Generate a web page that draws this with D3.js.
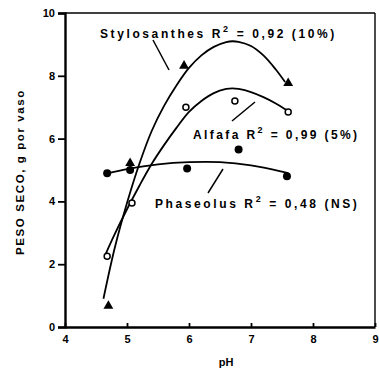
<!DOCTYPE html>
<html>
<head>
<meta charset="utf-8">
<script src="https://cdn.jsdelivr.net/npm/d3@7"></script>
<style>
  body { margin: 0; background: #fff; }
  svg text { font-family: "Liberation Sans", Arial, sans-serif; font-weight: bold; fill: #000; }
</style>
</head>
<body>
<svg id="chart"></svg>
<script>
// measured points
const styloPh = [4.7, 5.05, 5.92, 7.6];
const styloPts = [0.7, 5.25, 8.35, 7.8];
const alfafaPh = [4.68, 5.08, 5.95, 6.74, 7.6];
const alfafaPts = [2.25, 3.95, 7.0, 7.2, 6.85];
const phaseolusPh = [4.68, 5.05, 5.97, 6.8, 7.58];
const phaseolusPts = [4.9, 5.0, 5.05, 5.65, 4.8];

// fitted curves
const styloCurvePh = [4.62, 4.8, 5.0, 5.2, 5.4, 5.6, 5.8, 6.0, 6.2, 6.4, 6.6, 6.7, 6.8, 7.0, 7.2, 7.4, 7.55];
const styloCurve = [0.9, 2.5, 3.95, 5.2, 6.25, 7.05, 7.7, 8.25, 8.65, 8.92, 9.07, 9.1, 9.08, 8.95, 8.65, 8.2, 7.8];
const alfafaCurvePh = [4.65, 4.8, 5.0, 5.2, 5.4, 5.6, 5.8, 6.0, 6.2, 6.4, 6.6, 6.7, 6.8, 7.0, 7.2, 7.4, 7.58];
const alfafaCurve = [2.3, 2.95, 3.75, 4.5, 5.2, 5.8, 6.35, 6.85, 7.2, 7.45, 7.58, 7.6, 7.58, 7.48, 7.32, 7.12, 6.9];
const phaseolusCurvePh = [4.7, 5.0, 5.5, 6.0, 6.5, 7.0, 7.5, 7.6];
const phaseolusCurve = [4.9, 5.03, 5.18, 5.25, 5.25, 5.15, 4.95, 4.9];

const xTicks = [4, 5, 6, 7, 8, 9];
const yTicks = [0, 2, 4, 6, 8, 10];

const width = 379, height = 375;
const svg = d3.select('#chart').attr('width', width).attr('height', height);

const x = d3.scaleLinear().domain([4, 9]).range([65, 375]);
const y = d3.scaleLinear().domain([0, 10]).range([327, 13]);

// frame
svg.append('line').attr('x1', x(4)).attr('x2', x(9)).attr('y1', y(10)).attr('y2', y(10))
  .attr('stroke', '#000').attr('stroke-width', 1.6);
svg.append('line').attr('x1', x(9)).attr('x2', x(9)).attr('y1', y(10)).attr('y2', y(0))
  .attr('stroke', '#000').attr('stroke-width', 1.4);

// axes
const yAxis = svg.append('g').attr('transform', `translate(${x(4)},0)`)
  .call(d3.axisLeft(y).tickValues(yTicks).tickFormat(d3.format('d')).tickSize(7).tickPadding(3));
const xAxis = svg.append('g').attr('transform', `translate(0,${y(0)})`)
  .call(d3.axisBottom(x).tickValues(xTicks).tickFormat(d3.format('d'))
    .tickSizeInner(-4).tickSizeOuter(0).tickPadding(8));
[yAxis, xAxis].forEach(g => {
  g.select('.domain').attr('stroke-width', 2.4);
  g.selectAll('.tick line').attr('stroke-width', 1.8);
  g.selectAll('text').style('font-size', '11px');
});

// axis labels
svg.append('text').attr('x', 226).attr('y', 366).attr('text-anchor', 'middle')
  .style('font-size', '11px').text('pH');
svg.append('text').attr('transform', 'translate(24,172) rotate(-90)')
  .attr('text-anchor', 'middle').style('font-size', '11.5px').style('letter-spacing', '1.6px')
  .text('PESO SECO, g por vaso');

// curves
const line = d3.line().x(d => x(d[0])).y(d => y(d[1])).curve(d3.curveCatmullRom);
[[styloCurvePh, styloCurve], [alfafaCurvePh, alfafaCurve], [phaseolusCurvePh, phaseolusCurve]]
  .forEach(([ph, v]) => {
    svg.append('path').datum(d3.zip(ph, v)).attr('d', line)
      .attr('fill', 'none').attr('stroke', '#000').attr('stroke-width', 1.8);
  });

// markers
svg.selectAll('.stylo').data(d3.zip(styloPh, styloPts)).enter().append('path')
  .attr('transform', d => `translate(${x(d[0])},${y(d[1]) + 1})`)
  .attr('d', d3.symbol(d3.symbolTriangle).size(42)).attr('fill', '#000');
svg.selectAll('.alfafa').data(d3.zip(alfafaPh, alfafaPts)).enter().append('circle')
  .attr('cx', d => x(d[0])).attr('cy', d => y(d[1])).attr('r', 3)
  .attr('fill', '#fff').attr('stroke', '#000').attr('stroke-width', 1.5);
svg.selectAll('.phas').data(d3.zip(phaseolusPh, phaseolusPts)).enter().append('circle')
  .attr('cx', d => x(d[0])).attr('cy', d => y(d[1])).attr('r', 4).attr('fill', '#000');

// annotations
function label(tx, ty, name, r2, sig, ls) {
  const t = svg.append('text').attr('x', tx).attr('y', ty)
    .style('font-size', '12px').style('letter-spacing', ls + 'px');
  t.append('tspan').text(name + '  R');
  t.append('tspan').attr('dy', -6).style('font-size', '9px').text('2');
  t.append('tspan').attr('dy', 6).text(' = ' + r2 + ' ' + sig);
}
label(100, 38, 'Stylosanthes', '0,92', ' (10%)', 2.6);
label(193, 139, 'Alfafa', '0,99', '(5%)', 2.4);
label(155, 208, 'Phaseolus', '0,48', '(NS)', 2.6);

// leader lines
[[153, 40, 169, 70], [255, 102, 232, 121], [223, 169, 208, 193]].forEach(l => {
  svg.append('line').attr('x1', l[0]).attr('y1', l[1]).attr('x2', l[2]).attr('y2', l[3])
    .attr('stroke', '#000').attr('stroke-width', 1.5);
});
</script>
</body>
</html>
